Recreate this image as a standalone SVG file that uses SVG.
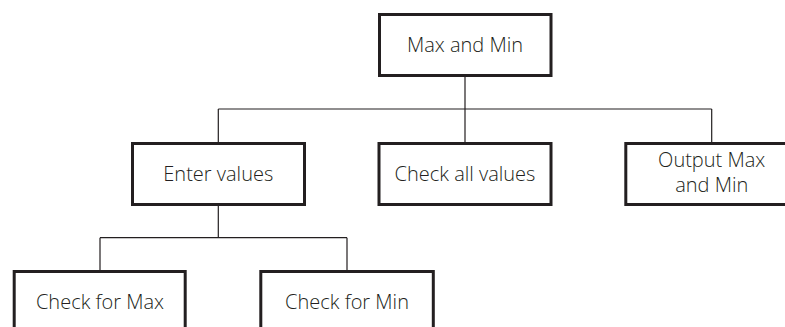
<svg xmlns="http://www.w3.org/2000/svg" width="785" height="327" viewBox="0 0 785 327">
  <style>
    .box { fill: #ffffff; stroke: #231f20; stroke-width: 3; }
    .lbl { font-family: "Open Sans", "Noto Sans", "Liberation Sans", sans-serif; font-size: 20px; font-weight: 300; fill: #231f20; text-anchor: middle; }
    .conn { fill: none; stroke: #231f20; stroke-width: 1.2; }
  </style>
  <rect width="785" height="327" fill="#ffffff"/>
  <g id="connectors">
    <path class="conn" d="M465 76 V109 M218.3 109 H711.7 M218.3 109 V142 M465 109 V142 M711.7 109 V142"/>
    <path class="conn" d="M218.3 206 V237.7 M100 237.7 H347 M100 237.7 V270 M347 237.7 V270"/>
  </g>
  <g id="max-and-min">
    <rect class="box" x="379.5" y="14.5" width="171.5" height="61"/>
    <text class="lbl" x="465" y="52">Max and Min</text>
  </g>
  <g id="enter-values">
    <rect class="box" x="132.5" y="143.5" width="172" height="61"/>
    <text class="lbl" x="218.3" y="181">Enter values</text>
  </g>
  <g id="check-all-values">
    <rect class="box" x="379" y="143.5" width="172" height="61"/>
    <text class="lbl" x="465" y="181">Check all values</text>
  </g>
  <g id="output-max-and-min">
    <rect class="box" x="625.8" y="143.5" width="172" height="61"/>
    <text class="lbl" x="711.7" y="167">Output Max</text>
    <text class="lbl" x="711.7" y="192">and Min</text>
  </g>
  <g id="check-for-max">
    <rect class="box" x="14.2" y="271.5" width="171" height="61"/>
    <text class="lbl" x="100" y="309">Check for Max</text>
  </g>
  <g id="check-for-min">
    <rect class="box" x="260.8" y="271.5" width="172.5" height="61"/>
    <text class="lbl" x="347" y="309">Check for Min</text>
  </g>
</svg>
